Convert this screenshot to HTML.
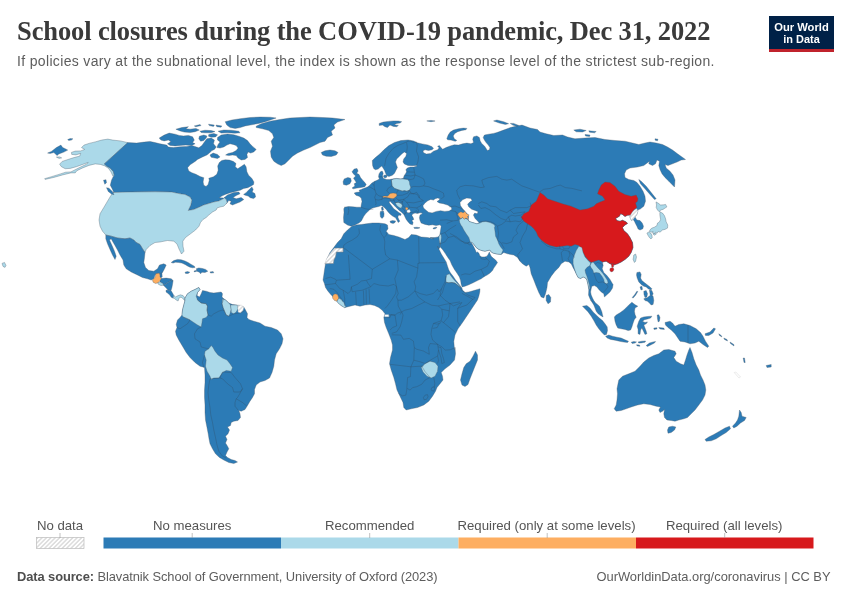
<!DOCTYPE html>
<html lang="en"><head><meta charset="utf-8"><title>School closures during the COVID-19 pandemic</title>
<style>
html,body{margin:0;padding:0;background:#fff;}
body{width:850px;height:600px;overflow:hidden;position:relative;font-family:"Liberation Sans",sans-serif;}
svg{position:absolute;left:0;top:0;display:block}
text{font-family:"Liberation Sans",sans-serif}
.ttl{font-family:"Liberation Serif",serif;font-weight:bold;font-size:26.5px;fill:#3a3a3a}
.sub{font-size:14px;fill:#5d5d5d}
.lg{font-size:13.2px;fill:#555}
.ft{font-size:12.9px;fill:#5d5d5d}
.logo{font-weight:bold;font-size:11.6px;fill:#fff}
</style></head><body>
<svg width="850" height="600" viewBox="0 0 850 600">
<defs><pattern id="hatch" width="3.1" height="3.1" patternUnits="userSpaceOnUse" patternTransform="rotate(45)"><rect width="3.1" height="3.1" fill="#fff"/><line x1="0.8" y1="0" x2="0.8" y2="3.1" stroke="#dcdcdc" stroke-width="1.5"/></pattern></defs>
<text class="ttl" x="17" y="40" textLength="693.5" lengthAdjust="spacing">School closures during the COVID-19 pandemic, Dec 31, 2022</text>
<text class="sub" x="17" y="65.6" textLength="697.5" lengthAdjust="spacing">If policies vary at the subnational level, the index is shown as the response level of the strictest sub-region.</text>
<g id="logo"><rect x="769" y="16" width="65" height="36" fill="#002147"/><rect x="769" y="49" width="65" height="3" fill="#c0232c"/>
<text class="logo" x="801.5" y="30.8" text-anchor="middle" textLength="54.5" lengthAdjust="spacingAndGlyphs">Our World</text>
<text class="logo" x="801.5" y="42.6" text-anchor="middle" textLength="36.5" lengthAdjust="spacingAndGlyphs">in Data</text></g>
<g id="map" stroke="#4a5a68" stroke-width="0.35" stroke-linejoin="round">
<path d="M127.8,142.6 120.3,140.9 112.8,140.1 107.8,139.1 101.5,140.1 95.2,141.9 89.0,143.4 84.0,145.1 81.5,147.6 84.7,149.4 80.7,150.9 75.2,151.1 71.4,152.4 71.7,154.4 75.9,154.9 80.7,153.4 79.7,156.1 73.9,157.6 67.7,159.6 62.2,161.4 59.6,164.2 61.4,166.7 65.2,168.7 70.2,168.4 76.4,166.7 82.7,164.4 88.2,162.4 86.5,164.2 80.2,167.2 75.2,169.7 70.9,171.9 65.7,172.2 58.9,174.4 51.4,176.7 44.6,178.7 45.1,179.4 53.9,177.4 62.7,174.9 70.9,172.9 75.2,172.9 76.9,170.7 82.7,167.9 89.0,165.4 95.2,163.9 100.3,164.4 104.8,165.9 108.5,168.4 111.0,171.9 112.8,175.9 114.3,175.2 113.3,171.4 110.3,168.2 106.5,165.9 104.3,163.9Z" fill="#abd9e9"/>
<path d="M47.6,153.1 51.4,151.4 56.4,147.6 60.9,145.1 62.7,147.6 65.7,148.9 67.7,150.1 63.9,152.1 58.9,153.9 57.1,155.6 53.9,152.6 50.1,153.4Z" fill="#2c7bb6"/>
<path d="M67.7,139.6 70.2,138.6 72.9,138.8 71.4,140.1 68.7,140.4Z" fill="#2c7bb6"/>
<path d="M56.4,157.1 59.6,156.9 61.7,157.9 59.1,158.4Z" fill="#abd9e9"/>
<path d="M114.0,192.7 112.3,189.0 110.3,185.2 111.5,180.2 113.3,176.4 114.3,175.2 113.3,171.4 110.3,168.2 106.5,165.9 104.3,163.9 127.8,142.6 136.6,143.1 144.1,142.1 149.9,141.4 150.0,141.4 155.0,142.6 160.0,143.8 166.7,145.1 168.4,147.1 173.4,147.6 180.1,146.8 186.8,146.4 191.8,145.4 198.8,147.8 201.9,145.6 204.4,141.9 206.9,138.8 211.2,138.1 214.4,140.0 213.5,143.8 216.2,146.9 214.4,149.4 211.9,150.6 209.4,153.1 206.9,155.0 202.5,156.9 197.5,159.4 195.1,161.5 190.1,164.8 187.6,167.7 188.8,171.0 191.8,172.7 195.9,174.3 200.1,176.5 203.8,177.7 203.1,181.9 203.8,185.2 206.0,186.5 208.1,184.4 209.3,180.2 208.8,178.2 213.5,176.8 216.8,174.3 218.2,170.2 217.7,166.0 219.3,162.6 221.8,160.5 225.2,159.8 229.4,160.1 233.5,161.5 236.0,163.5 235.2,166.8 237.7,168.8 241.9,166.0 244.4,164.3 246.1,166.8 246.9,171.8 248.6,175.2 251.9,178.5 253.9,181.9 253.6,184.4 251.1,186.0 247.7,187.7 243.6,188.5 240.2,190.2 235.2,191.5 230.2,192.7 225.2,194.4 221.8,196.1 219.3,197.7 223.8,198.0 227.5,195.0 233.8,192.5 238.8,192.0 240.0,193.8 236.2,195.5 233.0,197.5 236.2,198.8 241.2,197.5 243.8,199.5 240.0,202.0 235.5,203.8 232.5,205.0 230.0,203.8 231.2,201.2 228.8,200.5 226.2,203.8 227.0,202.5 226.2,199.5 224.5,198.0 222.0,199.5 218.8,201.0 213.8,202.0 208.0,203.8 203.8,205.0 199.5,207.0 193.8,209.5 188.2,210.5 190.8,205.0 191.8,200.0 190.0,197.0 185.0,194.5 180.0,193.8 176.2,193.0 171.2,192.0 155.0,191.8 130.0,192.0 113.0,192.5Z" fill="#2c7bb6"/>
<path d="M113.0,192.5 130.0,192.0 155.0,191.8 171.2,192.0 176.2,193.0 180.0,193.8 185.0,194.5 190.0,197.0 191.8,200.0 190.8,205.0 188.2,210.5 193.8,209.5 199.5,207.0 203.8,205.0 208.0,203.8 213.8,202.0 218.8,201.0 222.0,199.5 224.5,198.0 226.2,199.5 227.0,202.5 226.2,203.8 223.8,206.2 220.0,207.0 217.0,208.0 216.2,210.0 212.5,212.0 208.8,215.0 206.2,217.5 203.0,219.5 200.5,222.5 199.0,226.2 195.5,230.0 190.5,233.8 185.5,237.5 182.8,241.2 183.0,246.2 184.0,251.2 181.5,254.0 179.0,249.0 177.0,244.0 173.8,241.2 167.5,240.5 160.0,242.0 155.0,242.5 150.0,245.5 146.2,249.5 145.0,252.5 142.5,248.8 140.0,244.5 136.2,242.5 133.8,240.0 130.0,238.0 125.0,238.8 117.5,238.0 111.2,236.2 105.8,235.0 102.5,231.2 100.0,226.2 99.0,220.0 100.0,213.8 103.8,207.5 107.5,201.2 110.5,196.2Z" fill="#abd9e9"/>
<path d="M105.8,235.0 111.2,236.2 117.5,238.0 125.0,238.8 130.0,238.0 133.8,240.0 136.2,242.5 140.0,244.5 142.5,248.8 145.0,252.5 144.5,257.5 143.8,262.5 145.5,267.5 148.8,270.5 153.8,271.2 157.5,268.8 159.5,265.0 163.8,263.8 166.2,265.0 164.5,268.8 162.5,272.5 160.5,274.5 157.5,273.8 155.0,275.0 153.8,278.8 151.2,280.0 147.5,278.8 142.5,277.5 137.5,275.0 131.2,272.0 126.2,268.8 123.8,265.0 123.0,260.0 120.0,255.0 117.5,250.0 115.0,245.5 112.5,241.2 111.2,238.8 109.5,240.0 112.0,245.5 114.5,251.2 116.2,256.2 115.0,259.5 112.5,255.0 110.0,249.5 107.5,243.8 105.8,238.8Z" fill="#2c7bb6"/>
<path d="M106.5,187.7 109.0,188.2 112.3,191.5 114.0,194.7 111.5,194.0 108.3,191.5Z" fill="#2c7bb6"/>
<path d="M103.5,180.2 106.0,179.7 106.5,182.7 104.8,184.2Z" fill="#2c7bb6"/>
<path d="M159.2,138.1 164.2,135.1 169.2,133.1 175.1,134.2 179.2,135.4 183.4,135.9 188.4,135.4 192.6,136.8 194.3,140.1 192.6,142.6 195.1,143.8 191.8,145.4 185.9,145.1 180.1,145.4 175.1,145.9 170.0,145.4 167.5,143.8 170.9,141.8 168.4,140.1 164.2,140.9 160.9,140.1Z" fill="#2c7bb6"/>
<path d="M175.9,129.2 181.7,127.6 188.4,126.7 185.9,128.7 190.1,129.2 195.9,128.4 199.3,130.1 195.1,131.7 190.1,132.6 184.2,132.1 180.1,130.9Z" fill="#2c7bb6"/>
<path d="M194.3,125.9 200.1,124.6 201.0,125.6 195.9,126.7Z" fill="#2c7bb6"/>
<path d="M208.5,124.2 214.3,125.1 213.5,126.4 209.3,125.6Z" fill="#2c7bb6"/>
<path d="M216.0,125.1 221.8,125.9 221.0,127.2 216.8,126.7Z" fill="#2c7bb6"/>
<path d="M225.2,121.7 231.9,120.0 240.2,118.7 250.2,117.5 260.3,117.0 270.3,117.2 276.1,118.0 270.3,120.0 265.3,121.7 258.6,123.4 250.2,125.1 245.2,125.9 240.2,127.6 235.2,128.4 230.2,127.6 226.8,125.1Z" fill="#2c7bb6"/>
<path d="M247.7,191.0 250.2,188.5 251.9,186.9 253.2,189.4 252.2,191.9 254.9,193.6 255.6,196.9 253.6,198.6 250.2,197.7 248.2,196.1 245.2,195.2 243.6,194.4 246.1,192.7Z" fill="#2c7bb6"/>
<path d="M256.2,126.2 261.2,123.8 270.0,121.2 280.0,119.5 290.0,118.0 300.0,117.5 310.0,117.0 322.5,117.5 332.5,118.0 345.0,119.5 337.5,122.0 333.8,125.0 335.0,128.0 331.2,131.2 332.5,135.0 327.5,137.5 325.0,141.2 320.0,142.5 315.0,145.0 310.0,147.5 303.8,150.0 297.5,153.0 292.5,156.2 288.8,160.0 285.0,163.8 281.2,165.5 277.5,163.8 273.8,161.2 271.2,157.0 270.5,151.2 272.5,146.2 271.2,141.2 273.8,137.5 272.5,133.8 268.8,130.5 262.5,128.8 256.2,127.5Z" fill="#2c7bb6"/>
<path d="M321.2,152.5 325.0,150.8 330.0,150.0 335.0,150.8 338.0,152.5 336.2,155.0 331.2,156.5 326.2,156.2 322.5,155.0Z" fill="#2c7bb6"/>
<path d="M217.5,137.5 221.2,135.0 227.5,134.0 233.8,134.8 238.8,136.2 243.8,138.1 247.5,140.6 250.0,143.8 253.1,146.9 256.2,149.4 253.8,151.9 250.6,153.1 248.1,151.9 246.9,154.4 247.5,157.5 245.0,159.4 241.2,160.0 238.1,158.1 236.2,155.6 232.5,155.0 228.8,155.6 225.6,155.0 228.1,153.5 232.5,152.5 236.2,150.6 238.1,148.1 236.2,145.6 233.1,144.4 230.0,143.8 226.9,145.0 223.8,146.9 220.0,148.1 216.9,147.5 218.1,144.4 220.0,141.9 217.5,140.0Z" fill="#2c7bb6"/>
<path d="M210.0,155.0 213.1,153.1 217.5,154.4 220.0,156.9 217.5,158.5 213.8,157.8 211.2,157.2Z" fill="#2c7bb6"/>
<path d="M199.4,136.2 203.8,135.0 206.9,136.0 206.2,138.1 203.8,140.6 200.6,141.2 198.8,138.8Z" fill="#2c7bb6"/>
<path d="M208.8,134.4 213.8,133.5 217.5,134.8 215.6,136.9 211.2,137.2 208.5,136.2Z" fill="#2c7bb6"/>
<path d="M218.1,131.2 223.8,130.0 231.2,130.2 238.8,131.2 240.0,132.8 235.0,133.2 227.5,132.8 221.2,133.1Z" fill="#2c7bb6"/>
<path d="M200.0,131.2 205.0,130.2 211.2,130.6 215.0,131.5 211.2,132.8 205.0,132.8 201.2,132.5Z" fill="#2c7bb6"/>
<path d="M171.2,262.5 173.8,260.6 177.5,259.4 181.2,259.8 185.0,261.0 188.1,262.5 191.2,264.4 194.4,266.2 195.0,267.5 192.5,267.8 190.0,267.2 187.5,266.0 185.0,264.4 181.9,263.1 178.8,262.5 175.6,262.2 173.1,263.1Z" fill="#2c7bb6"/>
<path d="M196.2,268.8 198.8,267.9 202.5,268.5 205.6,269.4 207.8,271.2 205.0,272.5 201.9,272.2 200.6,273.8 199.4,272.2 196.9,271.2 194.4,271.9 194.0,271.0 196.9,270.2Z" fill="#2c7bb6"/>
<path d="M185.0,272.2 187.5,271.5 189.8,272.2 188.1,273.5 185.6,273.5Z" fill="#2c7bb6"/>
<path d="M210.0,271.9 213.1,271.6 213.8,272.8 210.6,273.1Z" fill="#2c7bb6"/>
<path d="M161.2,278.5 166.2,278.1 171.2,278.8 173.1,280.6 170.0,281.2 167.5,282.8 165.0,284.4 163.5,285.2 162.8,283.5 160.0,281.9 160.0,280.6Z" fill="#2c7bb6"/>
<path d="M165.0,284.4 167.5,282.8 170.0,281.2 173.1,280.6 172.5,284.4 171.9,287.5 171.0,290.6 168.1,290.2 166.2,288.1 164.4,286.2 163.5,285.2Z" fill="#2c7bb6"/>
<path d="M166.2,290.0 168.1,290.2 171.0,290.6 172.5,293.1 173.8,295.6 173.1,298.1 171.2,297.2 169.8,295.0 167.5,293.1 166.0,291.9Z" fill="#2c7bb6"/>
<path d="M173.8,295.6 175.6,296.9 178.1,295.6 180.6,294.8 183.1,295.6 185.0,298.1 184.8,300.6 183.5,299.4 181.9,297.5 180.0,297.2 178.8,298.8 178.1,301.0 176.2,300.0 174.4,298.5 173.1,298.1Z" fill="#abd9e9"/>
<path d="M160.0,273.8 161.9,272.5 162.2,276.9 160.6,278.1 160.0,276.9Z" fill="#2c7bb6"/>
<path d="M155.6,273.8 159.4,273.1 160.0,276.9 161.2,278.5 160.0,280.6 158.1,282.8 155.6,283.5 153.1,282.2 152.5,280.0 154.4,278.1 155.6,276.2Z" fill="#fdae61"/>
<path d="M157.8,282.8 160.0,281.9 162.8,283.5 163.5,285.2 161.0,285.6 158.5,284.4Z" fill="#abd9e9"/>
<path d="M185.0,298.0 187.5,293.8 191.2,291.2 195.0,289.5 198.8,287.5 200.0,289.5 197.5,292.5 197.0,295.5 199.5,297.0 201.2,293.8 202.5,290.5 206.2,291.2 210.0,292.5 213.8,293.0 217.5,292.5 221.2,292.0 222.5,293.8 222.0,297.0 223.8,298.8 225.5,300.0 228.8,303.0 232.5,304.5 236.2,305.0 240.0,305.5 243.8,307.0 245.5,310.0 247.5,313.8 247.0,317.5 248.8,319.5 253.8,321.2 260.0,323.0 265.0,326.2 271.2,327.5 277.5,330.0 281.2,333.8 283.0,338.8 282.0,343.8 279.5,348.8 276.2,353.8 274.5,360.0 273.8,366.2 272.0,372.5 269.5,378.0 265.0,380.5 260.0,382.0 256.2,385.0 254.5,389.5 254.5,393.8 252.5,397.5 250.0,401.2 247.5,405.5 245.0,409.5 241.2,411.2 238.8,410.5 240.0,413.8 240.5,417.5 238.0,420.5 233.8,421.2 231.2,422.5 230.5,425.5 227.5,427.0 229.5,430.0 228.0,433.8 225.5,436.2 227.0,439.5 225.5,443.0 227.5,446.2 228.8,448.8 227.0,452.0 225.5,455.5 227.5,457.5 231.2,459.5 235.0,460.5 237.5,462.0 233.8,463.5 228.8,462.5 223.8,460.0 219.5,457.5 215.5,453.8 212.5,448.8 210.0,443.8 209.0,438.8 208.2,433.8 207.0,427.5 205.5,420.0 205.0,412.5 205.0,405.0 204.5,397.5 204.5,390.0 205.0,382.5 205.0,375.0 204.5,367.5 200.0,366.2 195.0,362.5 190.0,357.5 186.2,352.5 182.5,346.2 178.8,340.0 176.2,335.0 175.5,331.2 177.0,327.5 176.2,324.5 177.5,320.0 180.0,317.5 182.0,315.0 182.5,310.0 183.8,305.0 185.0,300.5Z" fill="#2c7bb6"/>
<path d="M185.0,298.0 187.5,293.8 191.2,291.2 195.0,289.5 198.8,287.5 200.0,289.5 197.5,292.5 196.2,296.2 197.5,300.0 201.2,303.0 206.2,303.8 207.5,306.2 207.0,310.0 208.0,315.0 206.2,317.5 202.5,318.8 202.0,322.5 201.2,327.0 197.5,325.0 190.0,320.0 183.0,317.0 182.0,315.0 182.5,310.0 183.8,305.0 185.0,300.5Z" fill="#abd9e9"/>
<path d="M222.5,298.8 225.5,300.0 228.8,303.0 230.5,305.0 231.2,309.5 230.0,313.8 228.8,316.2 226.2,315.0 224.5,311.2 223.0,307.5 222.0,303.8Z" fill="#abd9e9"/>
<path d="M230.5,305.0 236.2,305.0 237.5,305.5 238.0,308.8 236.2,312.0 233.8,313.8 231.2,312.5 231.2,309.5Z" fill="#abd9e9"/>
<path d="M237.5,305.5 241.2,305.0 243.8,307.0 243.0,310.5 240.5,313.0 238.0,312.0 238.0,308.8Z" fill="url(#hatch)" stroke="#c4c4c4"/>
<path d="M211.2,345.5 208.8,348.8 205.0,351.2 204.5,355.0 206.2,360.0 205.5,366.2 207.0,371.2 210.0,376.2 211.2,379.5 213.8,378.0 218.8,378.0 222.5,372.5 226.2,370.5 231.2,371.2 232.5,367.5 230.0,363.8 227.0,360.0 222.5,358.0 218.0,355.0 215.0,351.2 213.0,347.5Z" fill="#abd9e9"/>
<path d="M351.2,226.2 347.5,225.0 343.8,222.5 343.5,217.5 344.0,212.5 343.8,208.8 345.0,206.9 344.5,207.2 348.5,206.5 352.7,206.8 357.0,207.2 361.0,207.2 361.2,205.1 362.0,201.5 361.2,198.0 359.1,196.3 355.9,195.2 354.2,193.0 356.7,192.3 359.8,192.0 359.1,190.2 361.2,189.5 363.4,188.4 365.5,187.8 368.0,186.7 369.7,185.2 371.9,183.1 374.7,181.3 377.1,180.3 379.4,178.9 378.5,176.7 379.0,173.9 380.4,171.8 382.2,171.1 383.2,173.2 382.5,176.0 383.2,178.2 385.0,178.9 386.7,179.6 389.6,179.6 392.4,178.9 396.7,178.4 400.9,178.9 403.5,178.2 404.0,176.0 405.4,173.9 406.6,171.8 405.9,169.7 407.3,168.0 410.1,167.1 413.7,167.1 417.2,166.1 416.5,165.4 412.2,165.7 408.0,165.4 404.4,164.0 403.0,161.9 403.7,159.0 405.9,156.2 406.6,153.4 404.4,152.0 402.3,153.4 399.5,156.2 396.7,159.0 395.5,161.9 396.4,164.7 397.4,167.5 395.9,170.4 394.5,173.2 392.4,175.3 388.9,176.5 386.7,175.6 385.6,173.2 384.6,170.4 383.2,168.2 381.8,166.1 380.4,167.1 378.2,169.0 375.4,169.7 373.7,168.5 372.6,165.4 372.3,160.5 375.4,157.6 379.7,154.1 383.9,149.8 388.9,145.6 394.5,142.5 400.9,140.6 408.0,139.9 413.7,141.0 417.2,142.7 422.2,143.9 427.8,144.9 432.1,146.7 433.5,148.4 432.1,149.8 428.5,150.5 425.0,149.8 422.9,151.0 423.6,152.7 426.4,154.1 430.7,153.4 433.5,151.2 437.7,149.8 439.2,147.7 437.6,146.4 439.3,145.4 441.0,147.6 442.6,149.3 446.0,147.6 450.2,145.9 454.3,144.8 458.5,145.1 462.7,143.8 466.9,143.1 471.0,143.8 473.6,142.6 472.7,139.3 473.6,136.8 476.9,135.9 479.4,137.6 480.2,140.9 481.9,143.8 484.4,145.9 486.1,148.4 487.3,150.5 489.4,149.8 489.9,147.6 488.3,145.1 486.1,142.6 484.4,140.1 483.2,137.6 484.4,135.1 488.6,134.2 493.6,133.4 496.9,132.6 503.6,130.1 510.3,127.6 517.0,125.9 522.0,125.1 530.0,128.0 537.5,129.5 540.0,132.0 546.2,133.8 553.8,135.5 562.5,135.0 567.5,137.0 575.0,138.8 585.0,138.0 595.0,137.5 605.0,139.5 615.0,140.5 625.0,141.2 632.5,143.0 638.8,144.5 645.0,143.0 650.0,142.0 656.2,143.0 662.5,144.5 667.5,147.0 672.5,150.0 677.5,153.8 682.0,157.0 685.5,159.5 681.2,160.0 677.0,162.0 672.5,163.8 668.0,165.5 665.0,164.5 666.2,168.0 670.0,171.2 673.0,175.0 675.0,180.0 674.5,187.0 672.5,185.0 668.8,181.2 665.0,177.5 662.0,173.8 660.0,169.5 658.8,165.5 659.5,161.2 657.0,160.0 655.5,163.8 652.5,165.5 648.8,163.8 649.5,161.2 643.8,165.5 637.5,167.0 630.0,168.0 626.2,170.0 624.5,173.8 625.0,177.5 628.8,179.5 633.8,180.5 637.0,182.5 640.0,186.2 643.0,191.2 645.0,196.2 645.5,201.2 643.8,206.2 640.5,208.8 640.6,208.8 637.8,210.0 637.8,211.2 636.9,214.4 635.0,216.9 636.9,220.0 640.0,220.6 642.2,223.1 643.5,226.2 642.8,228.8 640.0,230.0 638.1,229.0 636.9,226.2 635.6,223.8 634.4,221.2 633.1,219.4 631.5,220.6 630.6,218.8 629.8,216.9 630.6,215.0 627.5,215.2 625.0,216.5 622.5,214.5 620.6,213.8 619.4,216.2 615.6,218.5 616.9,220.6 620.0,221.2 622.5,220.2 626.2,221.9 627.5,223.5 625.0,225.0 622.5,227.5 623.8,230.6 627.5,233.8 630.0,237.5 632.5,242.5 633.0,247.5 631.2,252.5 628.8,256.2 625.0,259.5 621.2,262.0 617.5,263.8 613.8,265.0 610.0,263.8 606.2,261.2 602.5,262.0 603.1,265.6 602.2,268.8 603.8,272.5 606.9,275.6 610.0,279.4 612.5,283.8 613.1,284.4 612.5,288.1 610.0,291.9 606.9,294.8 604.4,296.9 603.8,293.8 601.2,291.9 598.8,289.4 596.9,286.9 594.4,285.6 591.9,286.2 591.2,288.8 590.6,291.9 591.2,295.0 592.5,298.1 593.8,300.6 595.6,303.1 597.5,304.4 599.4,306.2 600.6,308.8 601.9,311.9 602.5,315.0 603.1,316.9 600.6,315.6 598.1,313.8 596.2,311.2 595.0,308.1 593.8,305.0 591.9,301.9 590.0,298.8 588.5,295.0 588.8,290.0 588.1,285.0 586.9,280.0 585.6,278.1 583.1,276.9 580.6,278.5 578.1,277.5 576.2,273.8 575.0,271.2 573.0,267.5 571.2,263.8 568.8,262.0 565.0,261.2 561.2,263.8 558.8,267.5 555.0,271.2 551.2,276.2 547.5,282.5 547.0,287.5 545.5,293.8 543.8,298.0 541.2,297.0 538.8,292.5 536.2,286.2 533.8,280.0 531.2,273.8 530.0,267.5 528.8,264.5 526.2,266.2 522.5,263.8 520.0,261.2 517.5,257.5 513.8,255.0 507.5,253.8 503.8,252.5 501.2,254.4 496.9,254.0 493.1,253.1 491.2,251.9 489.8,250.0 487.5,250.6 485.0,251.2 481.9,250.6 478.8,249.4 476.2,247.5 474.4,245.0 472.2,242.5 470.2,241.9 471.5,243.1 473.1,245.6 474.4,248.1 475.6,250.6 476.2,252.5 477.5,251.9 478.8,253.1 480.0,256.0 481.9,256.9 484.8,256.9 486.9,256.2 488.1,254.4 489.4,251.9 490.0,253.8 491.2,256.2 493.1,258.1 495.6,260.0 497.5,262.5 495.6,265.6 493.8,268.1 492.5,270.6 490.0,273.1 487.5,274.8 484.4,276.5 481.2,278.8 477.5,280.6 473.1,282.8 468.8,284.8 465.0,286.2 462.2,286.9 461.2,284.4 460.6,280.6 459.4,276.9 456.9,273.1 454.4,269.4 451.9,265.0 450.0,260.6 447.5,256.9 445.0,253.1 442.5,249.4 440.2,246.9 440.0,243.8 439.8,240.0 439.8,235.0 440.6,230.0 441.2,226.2 440.0,224.8 436.2,225.6 432.5,224.8 428.8,225.2 425.0,224.4 421.2,223.1 420.0,220.6 419.4,217.8 420.0,215.0 421.2,214.4 422.5,213.1 420.0,212.8 417.5,213.5 415.0,213.1 412.5,214.0 411.9,215.6 413.1,217.5 413.8,219.4 411.9,220.6 413.1,222.5 412.5,224.8 410.0,224.0 408.1,221.9 406.2,219.4 405.0,216.9 403.8,214.4 401.2,211.9 398.1,209.4 395.0,206.2 392.5,203.8 390.0,201.2 389.0,201.9 390.0,203.8 391.9,206.2 393.8,208.8 396.2,210.6 398.8,212.5 401.2,214.0 400.6,215.6 398.8,215.0 397.8,216.9 398.8,219.4 399.8,221.2 398.2,222.5 397.2,220.6 395.6,217.8 392.5,216.0 390.0,214.0 388.1,211.9 386.2,209.4 383.8,206.9 381.2,205.6 378.8,206.5 375.6,207.2 372.5,208.1 370.0,209.4 368.1,211.2 365.6,213.8 363.8,216.2 362.5,218.8 361.2,221.2 358.8,223.1 355.0,225.0Z" fill="#2c7bb6"/>
<path d="M352.0,226.2 356.2,225.0 361.2,224.5 366.2,223.8 372.5,223.0 378.8,223.0 385.0,223.8 387.5,225.0 388.0,228.8 386.2,231.2 388.8,234.5 393.8,235.5 398.8,237.0 405.0,239.5 408.8,237.5 411.2,234.5 416.2,235.0 421.2,237.0 427.5,237.5 433.8,238.8 430.0,237.5 435.0,237.5 438.1,236.9 439.4,235.6 440.0,243.8 440.2,246.9 438.8,249.0 437.5,246.2 438.1,247.5 439.4,250.0 441.2,253.8 443.8,258.1 446.2,261.9 447.5,266.2 448.8,270.0 450.6,273.1 453.1,276.2 455.6,280.0 458.1,283.1 460.6,286.2 461.9,287.9 462.5,290.0 465.0,292.5 468.8,291.9 473.8,290.6 477.5,289.4 480.0,288.8 479.8,291.9 478.8,296.2 477.5,300.0 472.5,307.5 467.5,315.0 462.5,322.5 458.0,328.8 455.0,335.0 453.8,341.2 454.5,350.0 455.0,347.5 455.5,353.8 454.5,360.0 450.0,365.0 445.0,368.8 441.2,372.5 442.5,376.2 443.0,380.0 440.0,383.8 437.0,387.5 435.5,391.2 432.5,396.2 428.8,401.2 423.8,405.0 417.5,407.5 411.2,408.8 406.2,410.0 403.8,407.5 403.0,402.5 400.0,396.2 397.0,390.0 395.5,383.8 393.8,377.5 391.2,370.0 389.5,363.8 390.5,357.5 392.5,350.0 392.5,345.0 391.2,340.0 388.8,333.8 386.2,327.5 384.5,322.5 383.8,317.5 385.0,313.8 382.5,310.5 378.8,307.5 374.5,305.5 370.0,304.5 365.0,305.0 360.0,306.2 355.0,305.0 350.0,306.2 345.0,307.5 341.2,305.5 338.0,302.5 335.0,298.8 331.2,295.0 328.0,291.2 325.5,287.5 324.5,283.8 323.0,280.0 323.8,275.0 324.5,270.0 325.5,263.8 327.0,258.8 330.0,252.5 333.8,247.5 337.5,242.5 341.2,238.8 343.8,233.8 347.5,230.0Z" fill="#2c7bb6"/>
<path d="M475.5,351.2 477.5,355.0 477.5,360.0 475.0,366.2 472.5,372.5 470.0,378.8 468.0,384.5 465.0,386.5 462.0,385.0 460.5,380.0 462.0,373.8 463.8,367.5 466.2,363.8 470.0,361.2 473.0,356.2Z" fill="#2c7bb6"/>
<path d="M618.0,383.8 618.8,380.0 622.5,376.2 628.8,373.8 635.0,371.2 640.0,366.2 643.8,362.0 648.8,358.0 653.8,355.5 658.8,353.8 663.8,350.0 668.8,349.5 675.0,351.2 676.2,353.8 673.8,357.5 676.2,361.2 680.5,363.8 683.8,365.0 685.5,360.0 687.0,355.0 688.8,350.0 690.0,347.5 692.0,352.5 693.8,358.8 696.2,365.0 698.8,370.0 700.5,375.0 703.0,380.0 705.0,385.0 705.8,390.0 705.0,395.0 702.5,400.0 698.8,405.0 695.0,410.0 691.2,413.8 687.5,417.5 683.8,418.8 678.8,420.0 675.0,421.2 671.2,420.5 667.0,420.0 664.5,417.5 663.8,413.8 664.5,409.5 662.5,411.2 660.0,412.5 658.8,410.0 660.5,407.0 656.2,406.2 650.0,404.5 643.8,403.8 637.5,405.0 631.2,407.0 626.2,408.8 621.2,410.5 616.2,411.2 614.2,408.8 616.2,405.0 617.0,400.0 617.5,393.8 617.0,388.8Z" fill="#2c7bb6"/>
<path d="M668.8,427.0 672.5,426.2 675.8,427.0 674.5,430.0 671.2,432.5 668.0,433.2 667.5,430.0Z" fill="#2c7bb6"/>
<path d="M739.5,410.0 741.2,412.5 742.0,416.2 746.2,417.5 744.5,420.5 740.5,423.0 737.0,426.2 733.8,428.0 732.5,426.2 735.5,423.0 737.5,420.0 738.8,416.2Z" fill="#2c7bb6"/>
<path d="M729.5,426.2 730.5,428.8 726.2,432.5 721.2,435.5 716.2,438.8 711.2,440.8 706.2,441.2 705.0,439.5 708.8,437.0 713.8,434.5 719.5,431.2 725.0,428.0Z" fill="#2c7bb6"/>
<path d="M665.0,322.5 670.0,321.2 672.5,323.0 675.0,326.2 678.8,324.5 683.8,323.8 690.0,325.5 696.2,328.8 700.5,332.5 703.0,336.2 705.5,341.2 708.8,346.2 707.5,347.5 703.0,344.5 698.8,341.2 695.0,343.0 690.0,343.8 685.0,342.0 680.0,341.2 677.5,337.5 675.0,333.8 671.2,330.0 668.0,327.5 665.5,325.0Z" fill="#2c7bb6"/>
<path d="M705.0,333.8 710.0,332.0 713.8,328.0 715.5,328.8 713.0,333.0 708.8,335.5 705.5,335.5Z" fill="#2c7bb6"/>
<path d="M718.8,333.8 721.2,335.5 722.0,337.0 719.5,335.5Z" fill="#2c7bb6"/>
<path d="M723.8,338.0 727.0,339.5 727.5,341.0 724.5,339.5Z" fill="#2c7bb6"/>
<path d="M730.0,342.0 733.8,344.5 734.0,346.0 730.5,343.5Z" fill="#2c7bb6"/>
<path d="M743.2,358.0 744.5,358.0 745.2,362.5 744.0,362.5Z" fill="#2c7bb6"/>
<path d="M766.2,365.5 771.2,364.5 771.2,367.0 767.0,367.5Z" fill="#2c7bb6"/>
<path d="M734.2,372.5 735.8,372.0 740.5,377.0 739.0,378.0Z" fill="#fff" stroke="#c4c4c4"/>
<path d="M546.2,295.5 548.8,294.5 550.8,297.5 550.5,302.0 548.0,303.8 546.2,300.5Z" fill="#2c7bb6"/>
<path d="M638.8,179.5 641.2,181.2 646.2,186.2 651.2,192.5 656.2,198.8 654.5,199.5 650.0,194.5 645.0,188.8 640.5,183.8Z" fill="#2c7bb6"/>
<path d="M573.8,130.0 580.0,129.2 586.2,130.5 582.5,132.0 576.2,131.8Z" fill="#2c7bb6"/>
<path d="M588.8,130.8 596.2,131.5 594.5,132.8 589.5,132.2Z" fill="#2c7bb6"/>
<path d="M585.0,134.5 590.0,135.0 589.5,136.5 585.5,136.0Z" fill="#2c7bb6"/>
<path d="M655.0,138.8 658.0,139.2 657.5,140.8 655.2,140.2Z" fill="#2c7bb6"/>
<path d="M446.8,138.8 448.2,135.1 450.2,132.1 453.5,130.1 458.5,128.7 463.5,128.1 466.9,128.4 466.0,129.7 461.9,130.4 457.7,131.7 454.8,133.4 453.2,135.9 454.3,138.8 456.8,140.4 455.2,141.3 451.0,140.1 447.7,139.8Z" fill="#2c7bb6"/>
<path d="M379.2,123.4 383.3,122.1 388.4,121.4 393.4,120.9 398.4,121.0 401.7,121.7 400.0,123.1 396.7,123.4 394.2,124.7 398.4,125.4 396.7,126.7 393.4,126.4 390.0,125.1 387.5,127.6 385.0,126.7 382.5,125.1 379.2,125.4Z" fill="#2c7bb6"/>
<path d="M426.8,120.9 431.0,120.4 435.1,121.0 431.0,121.7Z" fill="#2c7bb6"/>
<path d="M493.6,120.9 496.9,120.0 503.6,121.7 508.6,123.7 505.3,124.4 499.4,123.1Z" fill="#2c7bb6"/>
<path d="M510.3,123.4 513.6,123.4 518.7,125.4 517.0,126.4 512.8,125.1Z" fill="#2c7bb6"/>
<path d="M354.2,169.0 357.0,168.5 358.1,171.1 356.7,173.2 359.1,174.6 360.5,177.5 362.7,180.3 364.8,182.4 366.2,184.5 364.8,186.7 361.2,187.4 357.0,188.1 353.5,188.8 352.0,188.1 354.9,185.9 354.2,183.8 356.3,182.4 354.9,180.3 353.5,178.2 355.6,176.0 353.5,173.9 352.0,171.8Z" fill="#2c7bb6"/>
<path d="M344.2,178.9 347.8,177.5 350.6,178.2 351.3,181.0 349.9,183.8 346.4,185.2 343.5,184.5 343.1,181.7Z" fill="#2c7bb6"/>
<path d="M383.9,175.3 386.5,175.0 387.0,177.0 385.0,177.9 383.6,177.0Z" fill="#2c7bb6"/>
<path d="M390.0,221.2 392.5,220.6 395.6,221.0 395.0,222.5 393.1,223.5 390.6,222.8Z" fill="#2c7bb6"/>
<path d="M380.4,211.5 383.4,210.9 384.1,213.8 383.8,216.5 382.2,218.4 380.5,217.1 380.1,213.8Z" fill="#2c7bb6"/>
<path d="M381.4,207.5 383.0,207.1 383.4,210.0 381.9,210.6Z" fill="#2c7bb6"/>
<path d="M413.8,227.5 416.9,227.2 420.0,227.8 418.1,228.5 414.4,228.4Z" fill="#2c7bb6"/>
<path d="M433.1,228.1 435.6,227.2 437.1,227.5 435.2,228.8 433.4,229.0Z" fill="#2c7bb6"/>
<path d="M582.5,306.2 586.9,305.6 590.0,308.1 593.1,311.9 596.2,315.0 599.4,318.1 602.5,320.6 605.0,323.8 607.2,326.9 607.5,330.6 606.5,334.4 604.4,335.0 601.9,332.5 598.8,328.8 596.2,325.0 593.8,320.6 591.2,316.2 588.1,311.9 585.0,308.8Z" fill="#2c7bb6"/>
<path d="M605.6,336.2 608.8,335.0 612.5,336.2 616.9,337.2 621.2,338.1 625.0,339.8 628.5,341.2 627.5,342.5 623.8,342.1 619.4,341.2 615.0,340.2 610.6,339.4 607.2,338.1Z" fill="#2c7bb6"/>
<path d="M631.2,342.2 633.8,341.5 636.5,341.9 635.0,343.1 632.2,343.5Z" fill="#2c7bb6"/>
<path d="M638.1,341.9 641.9,341.2 645.6,341.0 645.0,342.2 641.2,342.9 638.8,343.1Z" fill="#2c7bb6"/>
<path d="M636.5,344.8 639.4,345.0 640.0,346.2 637.2,346.0Z" fill="#2c7bb6"/>
<path d="M646.2,345.6 649.4,343.1 653.1,341.9 655.6,341.5 654.4,343.1 650.6,345.0 647.5,346.5Z" fill="#2c7bb6"/>
<path d="M614.4,316.9 616.2,315.0 620.0,312.8 623.8,310.0 626.9,306.9 629.4,304.4 631.9,302.2 633.8,303.8 635.6,305.0 637.8,306.2 635.0,308.1 634.4,311.2 635.0,314.4 636.2,317.2 634.4,319.4 633.1,323.1 631.9,326.9 630.6,330.0 628.1,330.6 625.0,329.4 621.2,328.8 617.8,328.1 616.2,325.0 615.0,321.2Z" fill="#2c7bb6"/>
<path d="M638.8,321.2 640.6,318.1 643.8,316.9 647.5,316.5 651.9,316.2 650.6,318.1 647.5,319.0 644.4,319.8 642.5,321.2 645.0,322.5 647.5,321.9 646.2,323.8 643.8,325.0 645.0,328.1 646.2,331.2 646.9,333.8 645.0,334.4 643.5,331.2 641.9,328.1 640.6,330.0 640.0,334.4 638.1,333.8 638.1,329.4 637.2,326.2Z" fill="#2c7bb6"/>
<path d="M657.2,315.0 658.8,314.8 660.0,317.5 659.4,321.2 658.1,321.9 657.5,318.8Z" fill="#2c7bb6"/>
<path d="M653.8,328.1 656.9,327.8 656.9,329.0 654.0,329.4Z" fill="#2c7bb6"/>
<path d="M658.8,327.5 663.8,328.1 664.4,329.4 660.0,329.0Z" fill="#2c7bb6"/>
<path d="M632.2,297.5 634.4,295.0 636.9,291.2 637.8,291.5 635.6,295.2 633.1,298.1Z" fill="#2c7bb6"/>
<path d="M643.8,298.8 647.5,297.5 650.6,295.0 653.1,296.2 653.8,300.6 653.1,304.4 651.2,305.0 649.4,303.1 647.5,301.2 645.0,300.6Z" fill="#2c7bb6"/>
<path d="M636.9,272.5 640.0,271.9 641.2,274.4 640.6,278.1 641.9,280.6 645.0,283.1 647.5,285.0 650.0,286.9 651.9,288.8 651.0,290.0 648.1,288.8 646.2,286.9 643.8,286.2 641.2,284.4 638.8,281.9 637.2,278.1 636.5,275.0Z" fill="#2c7bb6"/>
<path d="M640.0,286.9 641.9,286.2 642.5,289.4 641.0,290.0Z" fill="#2c7bb6"/>
<path d="M643.8,291.2 646.2,290.6 647.5,293.8 646.9,296.9 645.0,297.5 644.0,294.4Z" fill="#2c7bb6"/>
<path d="M649.4,290.0 651.9,290.6 653.1,293.8 651.9,296.2 650.2,295.0 649.8,292.5Z" fill="#2c7bb6"/>
<path d="M633.8,255.0 635.6,254.0 636.5,256.9 635.6,261.2 634.4,262.5 633.1,259.4Z" fill="#abd9e9"/>
<path d="M610.0,268.5 612.5,267.5 614.0,269.0 613.1,271.2 611.0,271.9 609.8,270.2Z" fill="#d7191c"/>
<path d="M656.0,201.9 658.1,203.1 660.6,205.0 663.8,204.8 665.6,204.4 666.9,206.9 665.0,208.1 663.1,209.4 660.6,210.0 659.4,211.9 657.5,210.0 656.2,207.5 656.5,205.0Z" fill="#abd9e9"/>
<path d="M660.0,211.9 662.5,213.1 664.4,215.6 665.6,218.8 666.2,221.9 667.8,225.0 667.5,228.1 665.0,229.4 662.5,230.0 660.0,232.2 658.1,231.5 657.2,233.1 655.6,232.2 654.4,233.8 652.5,233.1 653.1,231.5 651.2,232.2 649.4,231.5 650.0,229.8 651.9,228.1 654.4,227.2 656.9,225.6 657.5,223.1 659.4,221.9 660.6,219.4 660.0,216.2 659.8,213.8Z" fill="#abd9e9"/>
<path d="M646.9,233.1 649.0,231.9 650.6,233.1 651.9,235.0 652.2,237.5 651.0,239.0 649.4,237.5 648.1,235.6Z" fill="#abd9e9"/>
<path d="M653.1,234.0 655.6,233.1 656.5,234.0 654.4,235.2Z" fill="#abd9e9"/>
<path d="M521.2,217.5 523.8,213.8 528.8,211.2 531.2,205.0 536.2,201.2 540.0,192.5 543.8,195.0 547.5,198.8 555.0,201.2 562.5,203.8 571.2,206.2 580.0,210.0 587.5,208.8 593.8,206.2 596.2,203.8 600.0,202.0 605.0,200.0 602.5,196.2 597.5,193.8 598.8,190.0 601.2,185.0 605.0,182.0 610.0,182.5 615.0,186.2 618.8,191.2 625.0,194.5 631.2,196.2 636.2,195.0 638.0,198.8 637.5,201.2 635.6,203.1 636.9,207.5 633.8,210.0 630.6,215.0 627.5,215.2 625.0,216.5 622.5,214.5 620.6,213.8 619.4,216.2 615.6,218.5 616.9,220.6 620.0,221.2 622.5,220.2 626.2,221.9 627.5,223.5 625.0,225.0 622.5,227.5 623.8,230.6 627.5,233.8 630.0,237.5 632.5,242.5 633.0,247.5 631.2,252.5 628.8,256.2 625.0,259.5 621.2,262.0 617.5,263.8 613.8,265.0 610.0,263.8 606.2,261.2 602.5,262.0 598.8,260.0 595.0,261.2 591.2,262.5 588.0,260.0 585.0,256.2 583.0,252.5 581.2,248.8 578.8,245.5 575.0,244.5 571.2,246.2 567.5,245.5 562.5,246.2 556.2,247.0 550.0,245.5 545.0,243.0 541.2,240.0 538.0,236.2 536.2,232.0 533.8,228.8 531.2,226.2 527.5,223.8 523.8,221.2Z" fill="#d7191c"/>
<path d="M460.0,202.6 462.6,199.7 466.7,198.1 470.9,198.4 472.1,200.4 469.7,202.1 467.6,204.2 468.7,206.8 471.7,209.3 475.1,210.4 478.1,211.8 477.1,213.8 474.7,213.1 473.4,215.1 475.1,218.4 477.6,221.0 479.3,223.1 476.8,223.8 472.6,222.6 469.2,221.5 468.1,219.3 468.7,216.8 467.6,214.3 465.1,211.8 462.6,208.8 460.4,205.4Z" fill="#fff"/>
<path d="M395.2,202.9 398.1,202.2 401.2,203.4 402.3,205.8 401.2,208.2 399.2,207.6 396.9,205.8Z" fill="#abd9e9"/>
<path d="M405.4,207.6 407.3,207.2 408.3,209.0 406.9,210.2 405.4,209.3Z" fill="#fdae61"/>
<path d="M406.9,210.5 409.4,209.6 410.5,211.4 409.1,212.9 407.1,212.4Z" fill="#fff" stroke="#c4c4c4"/>
<path d="M422.9,205.8 425.0,202.9 427.8,200.8 430.7,199.4 433.5,200.1 435.2,198.7 437.7,198.0 439.9,198.7 439.2,200.1 437.0,201.5 439.2,202.9 443.4,203.7 447.6,205.1 451.2,207.2 451.9,209.3 449.1,211.0 444.8,211.4 440.6,210.7 436.3,211.4 432.1,212.9 428.5,212.2 425.7,210.0 423.6,207.9Z" fill="#fff"/>
<path d="M333.0,295.0 335.0,293.8 337.5,294.5 338.8,298.0 337.0,301.2 334.5,300.5 332.5,298.0Z" fill="#fdae61"/>
<path d="M337.0,301.2 338.8,298.0 341.2,299.5 343.8,302.5 345.5,306.2 345.0,308.0 341.2,305.5 338.0,303.0Z" fill="#abd9e9"/>
<path d="M421.2,367.5 425.0,363.8 430.0,361.2 435.0,362.5 438.0,366.2 437.5,371.2 435.0,376.2 431.2,378.0 427.0,376.2 423.0,372.0Z" fill="#abd9e9"/>
<path d="M2.0,263.4 4.5,262.4 6.0,265.4 5.0,267.4 3.0,266.4Z" fill="#abd9e9"/>
<path d="M573.1,259.4 574.4,255.0 576.2,250.6 578.8,246.2 581.9,247.5 583.1,252.5 585.0,256.9 588.1,260.6 590.6,263.1 590.0,265.6 586.9,267.5 585.0,270.0 585.6,273.1 586.9,276.2 588.1,280.0 589.4,285.0 590.0,289.4 589.0,288.8 588.1,285.0 586.9,280.0 585.6,278.1 583.1,276.9 580.6,278.5 578.1,277.5 576.2,273.8 574.4,268.8 573.1,263.8Z" fill="#abd9e9"/>
<path d="M591.2,263.1 593.1,261.9 595.0,264.4 597.5,267.5 600.0,270.0 603.1,273.8 605.6,277.5 607.5,280.6 608.1,283.1 606.2,283.8 604.4,282.5 603.8,279.4 601.9,276.2 599.4,273.1 596.2,272.5 593.8,273.1 592.8,270.0 591.0,267.5 590.2,265.6Z" fill="#abd9e9"/>
<path d="M611.2,263.5 613.8,263.5 613.4,267.2 611.8,267.2Z" fill="#d7191c"/>
<path d="M446.5,275.0 449.4,273.8 451.2,276.2 453.1,278.8 456.0,281.9 458.8,284.8 461.2,287.2 460.0,286.9 457.5,285.0 454.8,283.1 451.9,282.5 448.8,282.8 446.0,282.2 446.0,278.8Z" fill="#abd9e9"/>
<path d="M439.5,235.2 441.0,234.0 441.4,237.5 440.8,241.9 440.1,244.0 439.2,240.0 438.9,236.9Z" fill="#abd9e9"/>
<path d="M461.4,226.0 459.7,222.6 459.2,219.8 460.9,218.8 462.6,217.6 465.1,218.4 467.6,219.3 469.2,221.5 472.6,222.6 476.8,223.8 479.8,223.1 482.6,221.8 485.9,221.5 490.1,222.6 493.8,224.3 495.1,226.0 494.4,227.5 495.0,231.2 495.6,236.2 497.5,240.0 498.8,243.8 500.6,246.9 503.1,250.0 501.2,254.4 496.9,254.0 493.1,253.1 491.2,251.9 489.8,250.0 487.5,250.6 485.0,251.2 481.9,250.6 478.8,249.4 476.2,247.5 474.4,245.0 472.2,242.5 470.2,241.9 469.8,240.6 468.8,237.5 466.2,233.8 463.8,230.0 461.9,226.2Z" fill="#abd9e9"/>
<path d="M334.7,248.1 343.1,248.1 343.1,252.1 336.4,252.1 335.5,256.8 333.9,260.1 333.4,263.4 324.7,263.8 326.4,259.3 328.9,255.1 331.4,251.8Z" fill="url(#hatch)" stroke="#c4c4c4"/>
<path d="M630.6,215.0 632.5,211.9 635.0,209.4 636.9,208.8 637.8,211.2 636.9,214.4 635.0,216.9 633.1,219.4 631.5,220.6 630.6,218.8 629.8,216.9Z" fill="url(#hatch)" stroke="#c4c4c4"/>
<path d="M391.3,179.9 393.8,179.0 396.7,178.6 399.5,179.0 403.0,178.9 407.7,179.6 409.4,181.7 409.7,184.5 410.8,187.4 409.4,190.2 406.9,191.2 404.4,190.6 402.3,191.2 399.5,190.2 397.4,189.5 394.5,188.4 392.1,185.9 391.7,183.1Z" fill="#abd9e9"/>
<path d="M382.5,196.6 384.6,195.9 387.5,196.3 388.9,194.9 389.9,193.5 393.1,193.0 396.4,193.5 396.9,195.4 395.5,197.3 393.1,198.7 389.9,198.3 387.5,197.7 385.0,197.3 383.2,197.7Z" fill="#fdae61"/>
<path d="M458.4,213.1 460.9,211.8 463.1,212.8 465.1,211.4 466.7,213.8 469.2,215.1 467.6,216.4 468.4,219.3 465.9,218.1 464.2,219.3 462.6,217.3 460.9,218.8 459.2,216.8 457.7,214.8Z" fill="#fdae61"/>
<path d="M384.7,314.7 388.7,314.7 388.7,316.7 384.7,316.7Z" fill="#fff" stroke="#c4c4c4"/>
</g>
<g id="borders" fill="none" stroke="#2f3e4d" stroke-width="0.45" stroke-opacity="0.6" stroke-linejoin="round">
<path d="M210.0,378.8 208.8,385.0 208.0,392.5 208.8,400.0 210.0,407.5 210.8,415.0 212.5,422.5 213.8,430.0 215.5,437.5 217.0,445.0 218.8,451.2 222.5,456.2 226.2,458.0"/>
<path d="M220.0,378.0 222.5,372.0 231.2,372.5 235.0,377.5 240.5,383.8 242.5,388.8 240.0,392.0 233.8,392.0 232.5,387.5 227.5,383.8 222.5,378.8 220.0,378.0 210.0,378.8"/>
<path d="M242.5,388.8 240.5,392.5 237.5,397.5 236.2,398.8 242.5,402.5 247.0,406.2"/>
<path d="M236.2,398.8 235.0,402.5 235.0,406.2 238.0,410.0"/>
<path d="M183.0,317.0 186.2,318.0 190.0,320.0 187.5,323.8 183.8,326.2 180.0,328.8 177.0,327.5"/>
<path d="M201.2,327.0 197.5,328.8 194.5,333.8 195.0,338.8 200.0,342.0 201.2,347.0 205.0,348.0 208.8,348.8"/>
<path d="M204.5,355.0 202.5,362.5 203.8,367.5"/>
<path d="M197.5,300.0 201.2,303.0 206.2,303.8 207.5,306.2 207.0,310.0 208.0,315.0 211.2,316.2 213.8,313.8 218.8,311.2 222.5,310.0 224.5,311.2"/>
<path d="M223.8,298.8 222.0,303.8 223.0,307.5 224.5,311.2"/>
<path d="M224.5,311.2 226.2,315.0 228.8,316.2 233.8,313.8 240.5,313.0 245.5,310.0"/>
<path d="M688.0,325.0 688.0,343.0"/>
<path d="M358.9,228.4 359.4,233.4 357.3,236.7 352.2,240.1 347.2,242.6 343.9,245.1 343.1,248.1"/>
<path d="M334.7,248.1 343.1,248.1 343.1,252.1 336.4,252.1 335.5,256.8 333.9,260.1 333.4,263.4 324.7,263.8"/>
<path d="M343.1,248.1 345.6,249.2 372.3,269.3 389.8,258.8 385.7,255.1 384.5,248.4 384.8,241.7 384.0,237.6"/>
<path d="M380.6,225.0 379.8,230.0 381.5,234.2 384.0,237.6 386.5,235.0 386.2,232.5"/>
<path d="M389.8,258.8 397.4,260.1 417.9,268.1 417.9,263.4 419.1,263.4"/>
<path d="M418.7,236.7 419.1,263.4"/>
<path d="M419.1,262.9 445.0,262.6"/>
<path d="M348.4,254.8 350.1,279.3 336.4,280.2 335.5,279.3 330.5,277.1 325.5,278.5"/>
<path d="M336.4,280.2 335.5,283.5 329.7,284.3 324.7,284.8"/>
<path d="M335.5,283.5 339.7,288.5 343.1,290.2 344.7,298.5 344.7,306.0"/>
<path d="M329.7,288.5 333.9,289.3 337.2,292.7 338.9,295.2 341.4,298.5 343.1,301.9"/>
<path d="M343.1,290.2 348.1,293.5 350.6,291.0 351.4,286.8 357.3,284.3 361.4,281.0 366.4,280.2 371.5,278.5 372.3,269.3"/>
<path d="M351.4,286.8 352.2,291.8 356.4,291.0 362.3,290.2 366.4,288.5 370.6,286.8 368.1,283.5 366.4,280.5"/>
<path d="M355.6,291.8 356.4,305.2"/>
<path d="M363.4,290.5 363.9,304.9"/>
<path d="M366.1,289.3 366.4,304.4"/>
<path d="M369.0,288.5 369.8,303.5"/>
<path d="M370.6,286.8 374.0,283.5 379.8,285.2 388.2,286.0 394.0,284.3 396.5,286.8 395.7,293.5 391.5,300.2 387.3,306.0 384.8,308.6"/>
<path d="M397.4,260.1 398.2,270.1 394.8,278.5 396.5,286.8"/>
<path d="M417.9,268.1 416.6,276.8 414.1,281.8 415.7,286.8 414.9,291.0"/>
<path d="M414.9,291.0 408.2,296.9 401.5,300.2 397.9,300.2 396.5,296.9 398.2,293.5 396.5,286.8"/>
<path d="M397.9,300.2 398.2,306.0 401.5,311.9 400.2,314.6"/>
<path d="M414.9,291.0 419.9,293.5 426.6,295.2 433.3,293.5 437.4,289.3 439.1,291.8 441.6,288.5 445.0,281.8 445.8,276.0"/>
<path d="M414.9,291.0 418.2,296.9 424.9,301.9 418.2,305.2 411.6,308.6 404.9,310.2 401.5,311.9"/>
<path d="M441.6,288.5 440.0,295.2 445.0,300.2 450.0,303.5 460.0,301.9"/>
<path d="M424.9,301.9 431.6,305.2 438.3,306.0 445.0,304.4 450.0,303.5"/>
<path d="M384.2,317.6 390.0,317.6 390.9,314.7 395.0,315.1 395.9,320.9 396.7,325.9 392.5,327.6 390.0,330.1"/>
<path d="M388.7,314.7 395.0,315.1 397.6,313.1 400.9,311.9"/>
<path d="M401.7,311.9 403.1,315.1 401.7,321.7 400.1,326.8 396.7,331.8 391.7,333.4"/>
<path d="M438.3,306.0 441.8,309.2"/>
<path d="M441.8,309.2 442.7,315.1 441.0,320.9 433.5,323.4 431.8,328.4 431.0,334.3 432.6,340.1 437.6,344.3 430.1,343.5 428.5,347.6 429.3,354.3 423.4,351.0 416.8,349.3 414.3,347.6 413.4,341.0 409.2,338.4 403.4,339.3 400.9,335.1 391.7,334.8"/>
<path d="M441.8,309.2 449.3,310.9 448.5,316.7 443.5,322.6 441.0,320.9"/>
<path d="M449.3,310.9 450.0,303.5 453.5,305.9 461.9,302.5 457.7,308.4 457.7,321.7 460.2,325.9"/>
<path d="M461.9,293.3 472.7,299.2 466.9,305.0 461.9,306.7 457.7,308.4"/>
<path d="M443.5,322.6 452.7,330.1 454.9,332.1"/>
<path d="M433.5,323.4 437.1,324.2 441.0,322.6"/>
<path d="M432.6,328.4 437.1,327.6 439.3,323.4"/>
<path d="M437.6,344.3 441.8,346.8 445.2,350.1 450.2,349.8 455.2,347.6"/>
<path d="M414.3,347.6 413.8,360.2 420.1,361.8 425.1,363.5 431.8,359.3 437.6,356.0 438.5,350.1 437.6,344.3"/>
<path d="M438.1,346.8 441.0,347.6 441.8,353.5 443.5,358.5 444.3,362.7 441.8,363.5 441.0,357.7 439.3,352.6 438.5,350.1"/>
<path d="M390.0,364.3 410.9,366.8 423.4,366.0"/>
<path d="M413.8,360.2 410.9,366.8"/>
<path d="M437.6,356.0 438.5,360.2 437.6,363.5"/>
<path d="M410.9,366.7 410.4,376.7 407.6,377.5 406.7,390.1 405.9,395.1 402.6,395.9 398.4,393.4"/>
<path d="M421.8,366.3 425.1,371.7 430.1,377.5 425.1,380.0 421.8,384.2 416.8,386.7 412.6,387.6 410.1,390.1 407.1,388.4"/>
<path d="M433.8,377.5 434.8,383.4 434.3,387.6"/>
<path d="M431.8,387.6 433.8,386.7 434.8,388.7 433.8,391.1 431.8,390.7 431.1,389.1 431.8,387.6"/>
<path d="M423.4,397.6 425.1,395.1 427.5,394.7 428.1,396.8 426.5,399.3 424.1,399.8 423.4,397.6"/>
<path d="M384.6,166.1 386.0,158.3 388.9,153.4 393.1,148.4 398.1,145.3 403.0,143.5 408.0,141.3"/>
<path d="M406.6,142.5 407.3,147.0 406.6,152.7"/>
<path d="M408.0,141.3 410.8,141.0 413.7,142.7 416.5,142.0"/>
<path d="M416.5,142.0 417.2,145.6 416.5,151.2 418.6,156.9 417.9,161.9 416.5,165.4"/>
<path d="M413.7,167.5 414.4,171.8 415.1,175.0"/>
<path d="M406.6,171.8 414.4,172.2"/>
<path d="M404.4,175.3 410.8,176.0 415.1,175.0"/>
<path d="M403.5,178.2 410.1,179.6 413.7,178.9 415.1,175.0"/>
<path d="M415.1,175.0 419.3,176.7 423.6,178.9 425.0,183.1 423.6,185.9 419.3,186.7 413.7,186.4 410.5,187.4"/>
<path d="M423.6,185.9 428.5,186.7 433.5,188.8 439.2,190.9 443.4,193.0 444.1,196.6 441.3,198.7"/>
<path d="M409.4,190.2 410.8,193.0 413.7,193.7 417.2,194.4 419.3,198.0 423.6,200.8"/>
<path d="M413.7,193.7 416.5,192.3 419.3,195.9 419.3,198.0"/>
<path d="M374.7,181.3 374.0,185.2 374.7,189.5 376.1,193.7 379.0,195.9 382.5,196.6"/>
<path d="M391.3,179.9 392.1,185.9"/>
<path d="M392.1,185.9 388.2,188.1 386.7,190.9 388.9,193.0 389.9,193.7"/>
<path d="M368.3,186.4 371.9,188.1 375.4,190.2"/>
<path d="M371.9,183.5 374.3,185.5"/>
<path d="M376.1,193.7 374.7,197.3 375.4,199.4 376.1,203.7 375.4,205.1"/>
<path d="M375.4,199.4 378.2,200.1 381.8,199.4 382.5,196.6"/>
<path d="M381.8,199.4 383.9,198.0 389.9,198.3 390.3,200.5"/>
<path d="M392.1,185.9 394.5,188.4 398.1,189.8 396.4,193.5"/>
<path d="M398.1,189.8 402.3,190.9 406.6,191.2 409.4,190.2"/>
<path d="M396.9,195.4 402.3,195.2 408.0,193.0 409.4,190.2"/>
<path d="M395.5,197.3 398.1,200.1 403.7,199.4 408.0,196.6 409.4,193.7"/>
<path d="M409.4,193.7 413.7,193.7"/>
<path d="M403.7,199.4 406.6,202.2 413.7,202.9 419.3,201.5 423.6,200.8"/>
<path d="M409.4,207.2 416.5,207.9 420.7,205.8 422.2,203.7"/>
<path d="M403.7,199.4 402.3,202.2 403.0,205.8 405.4,207.6"/>
<path d="M406.6,202.2 408.7,205.1 409.4,207.2 408.3,209.0"/>
<path d="M393.1,198.7 395.2,202.9 398.1,202.2 401.2,203.4 402.3,201.5 398.1,200.1"/>
<path d="M390.3,200.5 393.1,200.8 395.5,199.4"/>
<path d="M402.3,208.2 404.4,210.0 405.4,212.9 404.4,215.0"/>
<path d="M404.4,213.6 407.1,212.4 409.1,212.9 413.7,212.2 416.5,210.7 417.9,212.9"/>
<path d="M417.9,212.9 418.6,210.0 416.5,207.9"/>
<path d="M348.2,207.2 348.8,210.7 347.8,215.0"/>
<path d="M361.0,207.2 364.8,208.6 368.3,209.3 373.3,209.3"/>
<path d="M379.0,176.7 382.5,176.7"/>
<path d="M460.0,199.3 457.5,194.3 456.7,190.1 460.0,186.8 465.1,185.4 473.4,185.9 480.9,187.6 484.3,187.1 482.6,183.4 481.8,180.1 488.4,177.6 496.8,176.4 501.8,179.2 506.8,180.1 511.8,179.2 516.8,182.6 521.9,185.9 526.9,187.6 533.6,190.1 539.4,192.1"/>
<path d="M539.4,192.1 543.6,189.3 550.3,188.4 556.9,185.9 560.3,185.1 565.3,187.6 572.0,188.4 578.7,190.1 582.0,190.9"/>
<path d="M478.4,203.5 481.8,201.8 486.8,203.5 490.1,206.0 496.0,206.8 500.1,210.1 506.8,212.6 510.2,210.1 515.2,207.6 520.2,207.6 526.9,207.6 531.0,206.0 530.2,202.6"/>
<path d="M478.4,205.1 480.9,208.5 485.1,207.6 490.1,210.1 495.1,214.3 501.0,218.5 506.0,220.2 508.5,216.8"/>
<path d="M479.3,221.8 485.9,221.0 491.0,221.8 494.3,223.5 497.6,226.0 501.8,224.3 506.0,221.0"/>
<path d="M510.2,210.1 513.5,213.5 519.4,212.6 525.2,211.8 521.0,215.2 515.2,216.0 511.8,215.2 508.5,216.8"/>
<path d="M508.5,216.8 510.2,221.8 515.2,221.0 520.2,221.8 522.7,218.5 521.0,216.0"/>
<path d="M506.0,221.0 510.2,221.8"/>
<path d="M523.5,221.0 518.5,225.2 516.0,230.2 517.7,233.5 513.5,236.9 511.8,241.9 506.8,243.6 501.8,242.7"/>
<path d="M497.6,226.0 498.5,233.5 497.6,240.2 501.0,242.7 504.3,248.6"/>
<path d="M449.2,206.8 455.0,206.0 461.7,208.5 465.1,211.0"/>
<path d="M450.4,210.5 455.9,211.5 458.4,214.3"/>
<path d="M455.9,212.1 457.5,216.8 458.4,220.2"/>
<path d="M446.7,223.5 452.5,221.0 458.4,220.2"/>
<path d="M450.0,233.5 456.7,236.9 465.1,243.6 469.2,242.7"/>
<path d="M440.0,220.2 446.7,219.8 452.5,221.0"/>
<path d="M527.5,223.8 526.2,230.0 522.5,236.2 520.0,242.5 522.5,248.8 517.5,255.0 520.0,261.2"/>
<path d="M541.2,241.2 547.5,246.2 556.2,248.8 560.0,248.8 559.5,245.5"/>
<path d="M562.5,246.5 563.8,248.8 568.8,248.8 570.0,246.0"/>
<path d="M561.2,252.5 563.8,250.0 568.8,251.2 570.0,255.0 568.0,258.8 571.2,263.8"/>
<path d="M561.2,252.5 562.5,261.2"/>
<path d="M560.0,248.8 563.8,250.0"/>
<path d="M568.8,251.2 573.0,255.0 574.5,257.5"/>
<path d="M593.8,273.1 596.2,280.0 598.1,282.5 602.5,281.9 606.2,283.8"/>
<path d="M606.2,283.8 608.1,286.9 605.6,290.0 603.1,292.5"/>
<path d="M590.0,300.0 592.8,301.9"/>
<path d="M595.0,264.4 597.5,262.5 601.2,263.5 603.1,265.6"/>
<path d="M461.2,275.0 465.0,273.8 470.0,274.4 475.0,271.2 481.2,269.4 484.4,276.5"/>
<path d="M481.2,269.4 487.5,266.2 489.4,261.2 486.9,258.8 484.8,256.9"/>
<path d="M440.0,243.8 445.0,241.9 448.1,237.5 453.8,236.2 461.2,241.2 467.5,243.1 470.2,241.9"/>
<path d="M441.0,234.0 445.0,232.5 448.1,237.5"/>
<path d="M445.0,232.5 450.0,228.8 456.2,225.0"/>
<path d="M467.5,243.1 469.4,245.0 471.5,244.4"/>
<path d="M480.0,256.0 481.2,258.8 484.8,259.4 486.9,258.8"/>
<path d="M446.0,282.2 448.8,282.8 451.9,282.5 454.8,283.1 457.5,285.0 460.0,286.9 461.2,290.0 465.0,292.5"/>
<path d="M446.0,282.2 443.8,287.5 442.5,292.5 440.0,296.2 437.5,300.0"/>
<path d="M465.0,292.5 467.5,295.0 475.0,297.5 472.5,300.0"/>
</g>
<g id="legend">
<rect x="36.5" y="537.5" width="47.5" height="11" fill="url(#hatch)" stroke="#bbb" stroke-width="0.7"/>
<rect x="103.5" y="537.5" width="177.5" height="11" fill="#2c7bb6"/>
<rect x="281" y="537.5" width="177.5" height="11" fill="#abd9e9"/>
<rect x="458.5" y="537.5" width="177.5" height="11" fill="#fdae61"/>
<rect x="636" y="537.5" width="177.5" height="11" fill="#d7191c"/>
<g stroke="#999" stroke-width="0.6"><line x1="60" y1="533" x2="60" y2="538"/><line x1="192.2" y1="533" x2="192.2" y2="538"/><line x1="369.7" y1="533" x2="369.7" y2="538"/><line x1="547.2" y1="533" x2="547.2" y2="538"/><line x1="724.7" y1="533" x2="724.7" y2="538"/></g>
<text class="lg" x="60" y="530.3" text-anchor="middle">No data</text>
<text class="lg" x="192.2" y="530.3" text-anchor="middle">No measures</text>
<text class="lg" x="369.7" y="530.3" text-anchor="middle">Recommended</text>
<text class="lg" x="546.5" y="530.3" text-anchor="middle">Required (only at some levels)</text>
<text class="lg" x="724.2" y="530.3" text-anchor="middle">Required (all levels)</text>
</g>
<text class="ft" x="17" y="580.8" textLength="420.5" lengthAdjust="spacing"><tspan font-weight="bold" fill="#4e4e4e">Data source:</tspan> Blavatnik School of Government, University of Oxford (2023)</text>
<text class="ft" x="830.5" y="580.8" text-anchor="end" textLength="234" lengthAdjust="spacing">OurWorldinData.org/coronavirus | CC BY</text>
</svg>
</body></html>
